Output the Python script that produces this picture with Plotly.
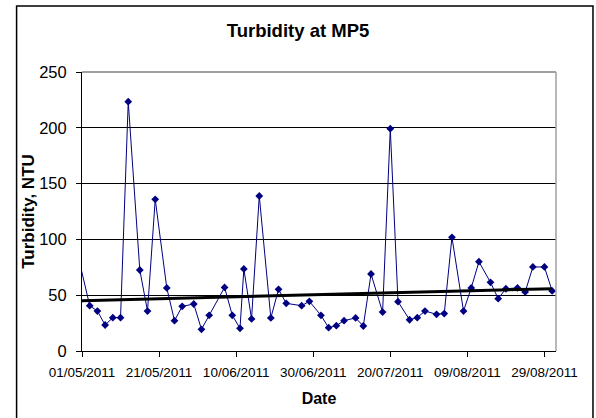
import pandas as pd
import plotly.graph_objects as go

# datos (fecha de muestreo, turbidez en NTU)
fechas = [
    "2011-04-30", "2011-05-03", "2011-05-05", "2011-05-07", "2011-05-09", "2011-05-11",
    "2011-05-13", "2011-05-16", "2011-05-18", "2011-05-20", "2011-05-23", "2011-05-25",
    "2011-05-27", "2011-05-30", "2011-06-01", "2011-06-03", "2011-06-07", "2011-06-09",
    "2011-06-11", "2011-06-12", "2011-06-14", "2011-06-16", "2011-06-19", "2011-06-21",
    "2011-06-23", "2011-06-27", "2011-06-29", "2011-07-02", "2011-07-04", "2011-07-06",
    "2011-07-08", "2011-07-11", "2011-07-13", "2011-07-15", "2011-07-18", "2011-07-20",
    "2011-07-22", "2011-07-25", "2011-07-27", "2011-07-29", "2011-08-01", "2011-08-03",
    "2011-08-05", "2011-08-08", "2011-08-10", "2011-08-12", "2011-08-15", "2011-08-17",
    "2011-08-19", "2011-08-22", "2011-08-24", "2011-08-26", "2011-08-29", "2011-08-31",
]
turbidez = [
    85, 40.6, 35.8, 23.3, 29.9, 29.9,
    223.4, 72.6, 35.8, 135.9, 56.5, 27.2,
    40, 42.1, 19.4, 32, 57, 32,
    20.3, 73.5, 28.7, 138.9, 29.6, 55.3,
    42.7, 40.6, 44.5, 32, 20.9, 22.7,
    27.2, 29.6, 22.4, 69, 34.9, 199.2,
    44.2, 28, 29.9, 35.8, 32.9, 33.5,
    101.9, 35.8, 56.5, 80, 61.5, 46.9,
    55.8, 56.5, 52.9, 75.3, 75.3, 53.8,
]

# linea de tendencia tal como aparece en el grafico (extremos leidos)
tendencia_fechas = ["2011-04-30", "2011-08-31"]
tendencia_valores = [45.0, 55.8]

fechas = pd.to_datetime(fechas)

fig = go.Figure()

fig.add_trace(go.Scatter(
    x=fechas, y=turbidez,
    mode="lines+markers",
    line=dict(color="#000080", width=1),
    marker=dict(symbol="diamond", size=6, color="#000080"),
    showlegend=False,
))

fig.add_trace(go.Scatter(
    x=pd.to_datetime(tendencia_fechas), y=tendencia_valores,
    mode="lines",
    line=dict(color="black", width=3),
    showlegend=False,
))

# borde exterior del grafico
fig.add_shape(type="rect", xref="paper", yref="paper",
              x0=-0.138, x1=1.078, y0=-0.26, y1=1.237,
              line=dict(color="black", width=1.5), layer="below")

fig.update_layout(
    width=596,
    height=418,
    margin=dict(l=82, r=40, t=72, b=67),
    plot_bgcolor="white",
    paper_bgcolor="white",
    font=dict(family="Liberation Sans, Arial", color="black"),
    title=dict(text="<b>Turbidity at MP5</b>", x=0.5, xanchor="center",
               y=0.926, yanchor="middle", font=dict(size=18.5)),
    xaxis=dict(
        range=["2011-05-01", "2011-09-01"],
        tick0="2011-05-01",
        dtick=20 * 86400000,
        tickformat="%d/%m/%Y",
        ticks="outside", ticklen=5, tickcolor="black",
        tickfont=dict(size=13.5),
        ticklabelstandoff=4,
        showgrid=False,
        showline=True, linecolor="black", linewidth=1,
        automargin=False,
        title=dict(text="<b>Date</b>", font=dict(size=16), standoff=13),
    ),
    yaxis=dict(
        range=[0, 250],
        dtick=50,
        ticks="outside", ticklen=5, tickcolor="black",
        tickfont=dict(size=16.5),
        ticklabelstandoff=6,
        showgrid=True, gridcolor="black", gridwidth=1,
        showline=True, linecolor="black", linewidth=1,
        zeroline=False,
        automargin=False,
        title=dict(text="<b>Turbidity, NTU</b>", font=dict(size=17), standoff=0),
    ),
)

# borde gris del area de trazado (arriba y derecha)
fig.add_shape(type="line", xref="paper", yref="paper", x0=0, x1=1, y0=1, y1=1,
              line=dict(color="#808080", width=1.5))
fig.add_shape(type="line", xref="paper", yref="paper", x0=1, x1=1, y0=0, y1=1,
              line=dict(color="#a0a0a0", width=1.5))

# sin margen del body para que el grafico quede en (0, 0)
fig.write_html("out.html", config={"displayModeBar": False},
               post_script="document.body.style.margin='0';")
